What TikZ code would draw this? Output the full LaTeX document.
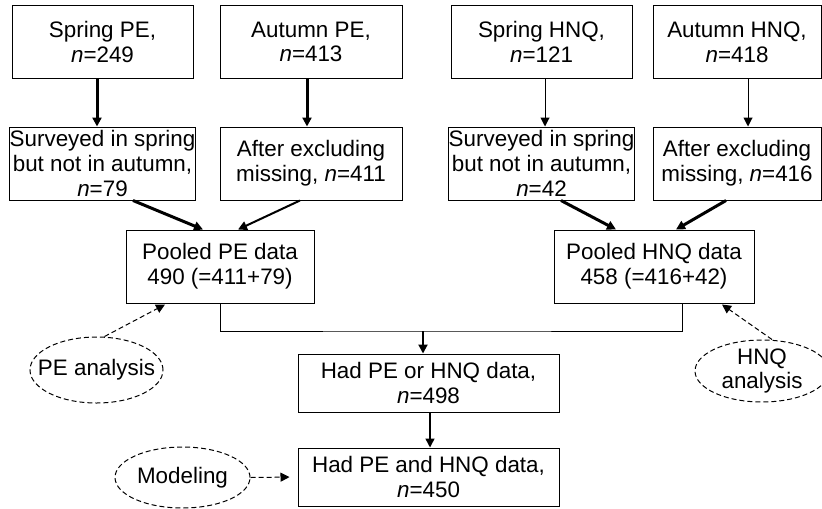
\documentclass[tikz,border=0pt]{standalone}
\usepackage{fontspec}
\setmainfont{Liberation Sans}
\usetikzlibrary{arrows.meta,shapes.geometric}

\begin{document}
\begin{tikzpicture}[x=0.5pt,y=-0.5pt,
	font=\fontsize{11.2}{12.4}\selectfont,
	box/.style={draw,line width=0.5pt,align=center,inner sep=0pt,minimum height=36.5pt},
	bubble/.style={draw,ellipse,line width=0.5pt,dash pattern=on 2.5pt off 1.5pt,align=center,inner xsep=-20pt,inner ysep=-5pt},
	flow/.style={-{Triangle[length=4.5pt,width=4.5pt]}},
	hint/.style={flow,line width=0.5pt,dash pattern=on 2.5pt off 1.5pt}]
	\def\nn{\textit{n}=}
	\useasboundingbox (0,0) rectangle (822,508);
	
	%PE BRANCH
	\node[box,minimum width=90.5pt] (sprPE)  at (102.5,42)  {Spring PE,\\\nn249};
	\node[box,minimum width=91pt]   (autPE)  at (311,42)    {Autumn PE,\\\nn413};
	\node[box,minimum width=90.5pt] (survPE) at (102.5,163.5) {Surveyed in spring\\but not in autumn,\\\nn79};
	\node[box,minimum width=91pt]   (exclPE) at (311,163.5) {After excluding\\missing, \nn411};
	\node[box,minimum width=94pt]   (poolPE) at (220,266.5) {Pooled PE data\\490 (=411+79)};
	
	%HNQ BRANCH
	\node[box,minimum width=90.5pt] (sprHNQ)  at (541.5,42)    {Spring HNQ,\\\nn121};
	\node[box,minimum width=84pt]   (autHNQ)  at (737,42)      {Autumn HNQ,\\\nn418};
	\node[box,minimum width=90.5pt] (survHNQ) at (541.5,163.5) {Surveyed in spring\\but not in autumn,\\\nn42};
	\node[box,minimum width=84pt]   (exclHNQ) at (737,163.5)   {After excluding\\missing, \nn416};
	\node[box,minimum width=100pt]  (poolHNQ) at (654,266.5)   {Pooled HNQ data\\458 (=416+42)};
	
	%MERGED
	\node[box,minimum width=130.5pt,minimum height=29pt] (hadOr)  at (428.5,383) {Had PE or HNQ data,\\\nn498};
	\node[box,minimum width=130.5pt,minimum height=29pt] (hadAnd) at (428.5,477) {Had PE and HNQ data,\\\nn450};
	
	%ANALYSES
	\node[bubble,minimum width=66.5pt,minimum height=33pt] (anaPE)  at (96.5,370)  {PE analysis};
	\node[bubble,minimum width=67pt,minimum height=31pt]   (anaHNQ) at (762,371)   {HNQ\\analysis};
	\node[bubble,minimum width=67.5pt,minimum height=30.5pt] (model) at (182.5,477.5) {Modeling};
	
	%ARROWS
	\draw[flow,line width=1.5pt] ([xshift=-2.75pt]sprPE.south) -- ([xshift=-2.75pt]survPE.north);
	\draw[flow,line width=1.5pt] ([xshift=-2pt]autPE.south) -- ([xshift=-2pt]exclPE.north);
	\draw[flow,line width=0.5pt] ([xshift=1.75pt]sprHNQ.south) -- ([xshift=1.75pt]survHNQ.north);
	\draw[flow,line width=0.5pt] ([xshift=5.5pt]autHNQ.south) -- ([xshift=5.5pt]exclHNQ.north);
	%
	\draw[flow,line width=1.5pt] ([xshift=15.25pt]survPE.south) -- ([xshift=-8.5pt]poolPE.north);
	\draw[flow,line width=1pt]   ([xshift=-5.5pt]exclPE.south) -- ([xshift=9pt]poolPE.north);
	\draw[flow,line width=1.5pt] ([xshift=9.75pt]survHNQ.south) -- ([xshift=-19pt]poolHNQ.north);
	\draw[flow,line width=1.5pt] ([xshift=-5.5pt]exclHNQ.south) -- ([xshift=11pt]poolHNQ.north);
	%
	\coordinate (join) at (423,331);
	\draw[line width=0.5pt] (poolPE.south) |- (join) -| ([xshift=14pt]poolHNQ.south);
	\draw[flow,line width=1pt] (join) -- (join |- hadOr.north);
	\draw[flow,line width=0.75pt] ([xshift=0.75pt]hadOr.south) -- ([xshift=0.75pt]hadAnd.north);
	%
	\draw[hint] ([xshift=4pt]anaPE.north) -- ([xshift=-27.5pt,yshift=-0.5pt]poolPE.south);
	\draw[hint] ([xshift=5pt]anaHNQ.north) -- ([xshift=34pt,yshift=-0.5pt]poolHNQ.south);
	\draw[hint,shorten >=4pt] (model.east) -- (hadAnd.west);
\end{tikzpicture}
\end{document}
